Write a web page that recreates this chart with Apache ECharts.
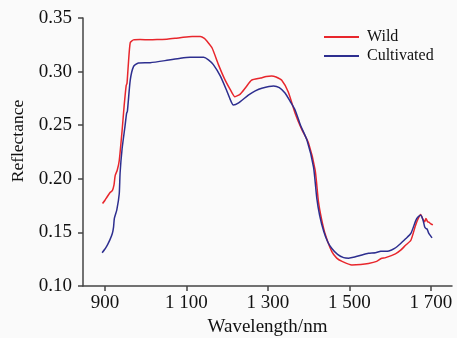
<!DOCTYPE html>
<html>
<head>
<meta charset="utf-8">
<script src="https://cdn.jsdelivr.net/npm/echarts@6/dist/echarts.min.js"></script>
<style>
html,body{margin:0;padding:0;background:#fafafa;}
#chart{width:457px;height:338px;}
</style>
</head>
<body>
<div id="chart"></div>
<script>
// Wavelength ticks shown on x axis
var xTickValues = [900, 1100, 1300, 1500, 1700];
var seriesNames = ['Wild', 'Cultivated'];

// Wild (red)
var wildWavelength = [894, 900, 905, 912, 918, 922, 925, 930, 935, 942, 947, 952, 954, 957, 962, 970, 986, 1011, 1035, 1052, 1072, 1092, 1114, 1134, 1144, 1150, 1163, 1178, 1195, 1208, 1219, 1232, 1245, 1260, 1282, 1296, 1309, 1320, 1334, 1350, 1367, 1382, 1400, 1416, 1424, 1432, 1441, 1457, 1469, 1482, 1506, 1528, 1547, 1567, 1578, 1589, 1613, 1626, 1638, 1651, 1662, 1668, 1675, 1681, 1685, 1688, 1692, 1695, 1700, 1705];
var wildReflectance = [0.177, 0.180, 0.183, 0.187, 0.189, 0.194, 0.203, 0.208, 0.217, 0.245, 0.268, 0.287, 0.289, 0.305, 0.327, 0.3296, 0.330, 0.3296, 0.330, 0.3302, 0.331, 0.332, 0.3327, 0.3327, 0.331, 0.3285, 0.322, 0.307, 0.292, 0.283, 0.2766, 0.279, 0.285, 0.292, 0.294, 0.2955, 0.296, 0.295, 0.292, 0.281, 0.261, 0.247, 0.233, 0.208, 0.179, 0.162, 0.148, 0.132, 0.126, 0.123, 0.1196, 0.120, 0.121, 0.123, 0.1256, 0.1265, 0.130, 0.1334, 0.138, 0.1427, 0.156, 0.162, 0.1667, 0.162, 0.160, 0.163, 0.160, 0.1595, 0.158, 0.157];

// Cultivated (blue)
var cultWavelength = [893, 899, 904, 907, 912, 918, 921, 923, 929, 935, 937, 942, 949, 953, 955, 962, 970, 982, 1011, 1052, 1085, 1109, 1142, 1154, 1166, 1183, 1198, 1208, 1215, 1227, 1252, 1269, 1285, 1314, 1328, 1342, 1355, 1367, 1380, 1396, 1412, 1420, 1427, 1437, 1447, 1457, 1471, 1486, 1498, 1513, 1531, 1547, 1564, 1577, 1597, 1611, 1626, 1638, 1651, 1663, 1669, 1675, 1681, 1685, 1688, 1691, 1695, 1703];
var cultReflectance = [0.131, 0.134, 0.137, 0.139, 0.143, 0.149, 0.155, 0.163, 0.171, 0.186, 0.205, 0.228, 0.2486, 0.261, 0.263, 0.292, 0.3047, 0.308, 0.3083, 0.3105, 0.3125, 0.3134, 0.3134, 0.311, 0.3065, 0.296, 0.283, 0.2735, 0.2689, 0.2705, 0.278, 0.282, 0.2845, 0.2866, 0.285, 0.280, 0.272, 0.264, 0.250, 0.236, 0.211, 0.182, 0.166, 0.151, 0.141, 0.135, 0.1295, 0.1265, 0.126, 0.127, 0.129, 0.1305, 0.131, 0.1324, 0.1327, 0.135, 0.1396, 0.144, 0.149, 0.161, 0.1645, 0.166, 0.1614, 0.155, 0.1536, 0.153, 0.149, 0.1449];

function pairs(xs, ys) { return xs.map(function (x, i) { return [x, ys[i]]; }); }
function fmtWl(v) {
  if (v >= 1000) { var r = String(v % 1000); while (r.length < 3) r = '0' + r; return Math.floor(v / 1000) + ' ' + r; }
  return String(v);
}

var font = '"Liberation Serif", "Times New Roman", serif';
var axisColor = '#444';
var chart = echarts.init(document.getElementById('chart'), null, {renderer: 'canvas'});
chart.setOption({
  backgroundColor: '#fafafa',
  animation: false,
  grid: {left: 83, right: 5, top: 18, bottom: 52, containLabel: false, outerBoundsMode: 'none'},
  legend: {
    orient: 'vertical', left: 324, top: 29, padding: 0,
    itemWidth: 35, itemHeight: 2, itemGap: 3,
    icon: 'rect',
    textStyle: {fontFamily: font, fontSize: 16, color: '#111', padding: [0, 0, 0, 3]},
    data: seriesNames
  },
  xAxis: {
    type: 'value', min: 846, max: 1752,
    name: 'Wavelength/nm', nameLocation: 'middle', nameGap: 32,
    nameTextStyle: {fontFamily: font, fontSize: 19, color: '#111'},
    axisLine: {show: true, lineStyle: {color: axisColor, width: 1.5}},
    axisTick: {show: true, length: 5, customValues: xTickValues, lineStyle: {color: axisColor, width: 1.5}},
    axisLabel: {customValues: xTickValues, fontFamily: font, fontSize: 19, color: '#111', margin: 8, formatter: fmtWl},
    splitLine: {show: false}
  },
  yAxis: {
    type: 'value', min: 0.10, max: 0.35, interval: 0.05,
    name: 'Reflectance', nameLocation: 'middle', nameGap: 42, nameRotate: 90,
    nameTextStyle: {fontFamily: font, fontSize: 17.5, color: '#111', padding: [0, 0, 0, 22]},
    axisLine: {show: true, lineStyle: {color: axisColor, width: 1.5}},
    axisTick: {show: true, length: 5, lineStyle: {color: axisColor, width: 1.5}},
    axisLabel: {fontFamily: font, fontSize: 19, color: '#111', margin: 11, formatter: function (v) { return v.toFixed(2); }},
    splitLine: {show: false}
  },
  series: [
    {name: seriesNames[0], type: 'line', data: pairs(wildWavelength, wildReflectance), showSymbol: false, smooth: 0.2,
     lineStyle: {color: '#e8262c', width: 1.5}, itemStyle: {color: '#e8262c'}},
    {name: seriesNames[1], type: 'line', data: pairs(cultWavelength, cultReflectance), showSymbol: false, smooth: 0.2,
     lineStyle: {color: '#2d2e8f', width: 1.5}, itemStyle: {color: '#2d2e8f'}}
  ]
});
</script>
</body>
</html>
